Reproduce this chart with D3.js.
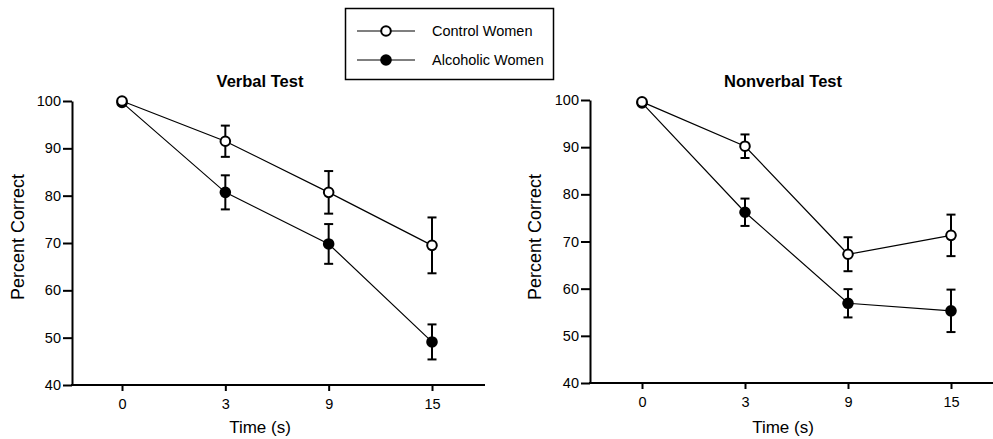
<html>
<head>
<script src="https://d3js.org/d3.v7.min.js"></script>
<style>
  body { margin: 0; background: #fff; }
  text { font-family: "Liberation Sans", Arial, Helvetica, sans-serif; fill: #000; }
</style>
</head>
<body>
<svg id="chart" width="993" height="439"></svg>
<script>
// data
var timeLabels = ["0", "3", "9", "15"];
var verbalControl = [100, 91.5, 80.7, 69.5];
var verbalControlErr = [0, 3.3, 4.5, 5.9];
var verbalAlcoholic = [99.7, 80.7, 69.8, 49.1];
var verbalAlcoholicErr = [0, 3.6, 4.2, 3.7];
var nonverbalControl = [99.6, 90.2, 67.3, 71.3];
var nonverbalControlErr = [0, 2.5, 3.6, 4.4];
var nonverbalAlcoholic = [99.4, 76.2, 56.9, 55.3];
var nonverbalAlcoholicErr = [0, 2.9, 3.0, 4.5];
var yTicks = [40, 50, 60, 70, 80, 90, 100];
var seriesNames = ["Control Women", "Alcoholic Women"];

var svg = d3.select("#chart");

function drawPanel(p) {
  var x = d3.scalePoint().domain(timeLabels).range([p.x0, p.x1]);
  var y = d3.scaleLinear().domain([40, 100]).range([p.yBottom, p.yTop]);
  var g = svg.append("g");

  // y axis
  var yAxisG = g.append("g")
    .attr("transform", "translate(" + p.axisX + ",0)")
    .call(d3.axisLeft(y).tickValues(yTicks).tickSize(9).tickSizeOuter(0).tickPadding(2));
  yAxisG.select(".domain").attr("stroke-width", 2);
  yAxisG.selectAll(".tick line").attr("stroke-width", 2);
  yAxisG.selectAll(".tick text").style("font-size", "14.5px");

  // x axis
  var xAxisG = g.append("g")
    .attr("transform", "translate(0," + p.yBottom + ")")
    .call(d3.axisBottom(x).tickSize(6).tickSizeOuter(0).tickPadding(8));
  xAxisG.select(".domain").remove();
  xAxisG.selectAll(".tick line").attr("stroke-width", 2);
  xAxisG.selectAll(".tick text").style("font-size", "14.5px");
  g.append("line")
    .attr("x1", p.axisX - 1).attr("x2", p.xEnd)
    .attr("y1", p.yBottom).attr("y2", p.yBottom)
    .attr("stroke", "#000").attr("stroke-width", 2);

  // titles
  g.append("text")
    .attr("x", p.titleX).attr("y", 87)
    .attr("text-anchor", "middle")
    .style("font-size", "16.5px").style("font-weight", "bold")
    .text(p.title);
  g.append("text")
    .attr("x", p.titleX).attr("y", 433)
    .attr("text-anchor", "middle")
    .style("font-size", "17px")
    .text("Time (s)");
  g.append("text")
    .attr("transform", "translate(" + p.yLabelX + ",237) rotate(-90)")
    .attr("text-anchor", "middle")
    .style("font-size", "18px")
    .text("Percent Correct");

  var line = d3.line()
    .x(function(d, i) { return x(timeLabels[i]); })
    .y(function(d) { return y(d); });

  // alcoholic first so the open control circle sits on top at 0 s
  var series = [
    { vals: p.alc, err: p.alcErr, fill: "#000" },
    { vals: p.ctrl, err: p.ctrlErr, fill: "#fff" }
  ];

  series.forEach(function(s) {
    g.append("path")
      .attr("d", line(s.vals))
      .attr("fill", "none")
      .attr("stroke", "#000")
      .attr("stroke-width", 1.2);
  });

  series.forEach(function(s) {
    s.vals.forEach(function(v, i) {
      if (!s.err[i]) return;
      var cx = x(timeLabels[i]);
      var eg = g.append("g").attr("stroke", "#000").attr("stroke-width", 2);
      eg.append("line").attr("x1", cx).attr("x2", cx)
        .attr("y1", y(v + s.err[i])).attr("y2", y(v - s.err[i]));
      eg.append("line").attr("x1", cx - 4.5).attr("x2", cx + 4.5)
        .attr("y1", y(v + s.err[i])).attr("y2", y(v + s.err[i]));
      eg.append("line").attr("x1", cx - 4.5).attr("x2", cx + 4.5)
        .attr("y1", y(v - s.err[i])).attr("y2", y(v - s.err[i]));
    });
  });

  series.forEach(function(s) {
    g.selectAll(null)
      .data(s.vals)
      .enter()
      .append("circle")
      .attr("cx", function(d, i) { return x(timeLabels[i]); })
      .attr("cy", function(d) { return y(d); })
      .attr("r", 4.8)
      .attr("fill", s.fill)
      .attr("stroke", "#000")
      .attr("stroke-width", 2);
  });
}

drawPanel({
  title: "Verbal Test", titleX: 260, yLabelX: 24,
  axisX: 72, x0: 122, x1: 432, xEnd: 485, yTop: 101, yBottom: 385,
  ctrl: verbalControl, ctrlErr: verbalControlErr,
  alc: verbalAlcoholic, alcErr: verbalAlcoholicErr
});

drawPanel({
  title: "Nonverbal Test", titleX: 783, yLabelX: 541,
  axisX: 590, x0: 642, x1: 951, xEnd: 993, yTop: 100, yBottom: 383,
  ctrl: nonverbalControl, ctrlErr: nonverbalControlErr,
  alc: nonverbalAlcoholic, alcErr: nonverbalAlcoholicErr
});

// legend
var legend = svg.append("g");
legend.append("rect")
  .attr("x", 345.5).attr("y", 8.5).attr("width", 208).attr("height", 71)
  .attr("fill", "none").attr("stroke", "#000").attr("stroke-width", 1.5);
var legendFill = ["#fff", "#000"];
seriesNames.forEach(function(name, i) {
  var ly = 31 + i * 29;
  legend.append("line")
    .attr("x1", 357).attr("x2", 415).attr("y1", ly).attr("y2", ly)
    .attr("stroke", "#000").attr("stroke-width", 1.2);
  legend.append("circle")
    .attr("cx", 386).attr("cy", ly).attr("r", 4.8)
    .attr("fill", legendFill[i]).attr("stroke", "#000").attr("stroke-width", 2);
  legend.append("text")
    .attr("x", 432).attr("y", ly + 5)
    .style("font-size", "14.5px")
    .text(name);
});
</script>
</body>
</html>
